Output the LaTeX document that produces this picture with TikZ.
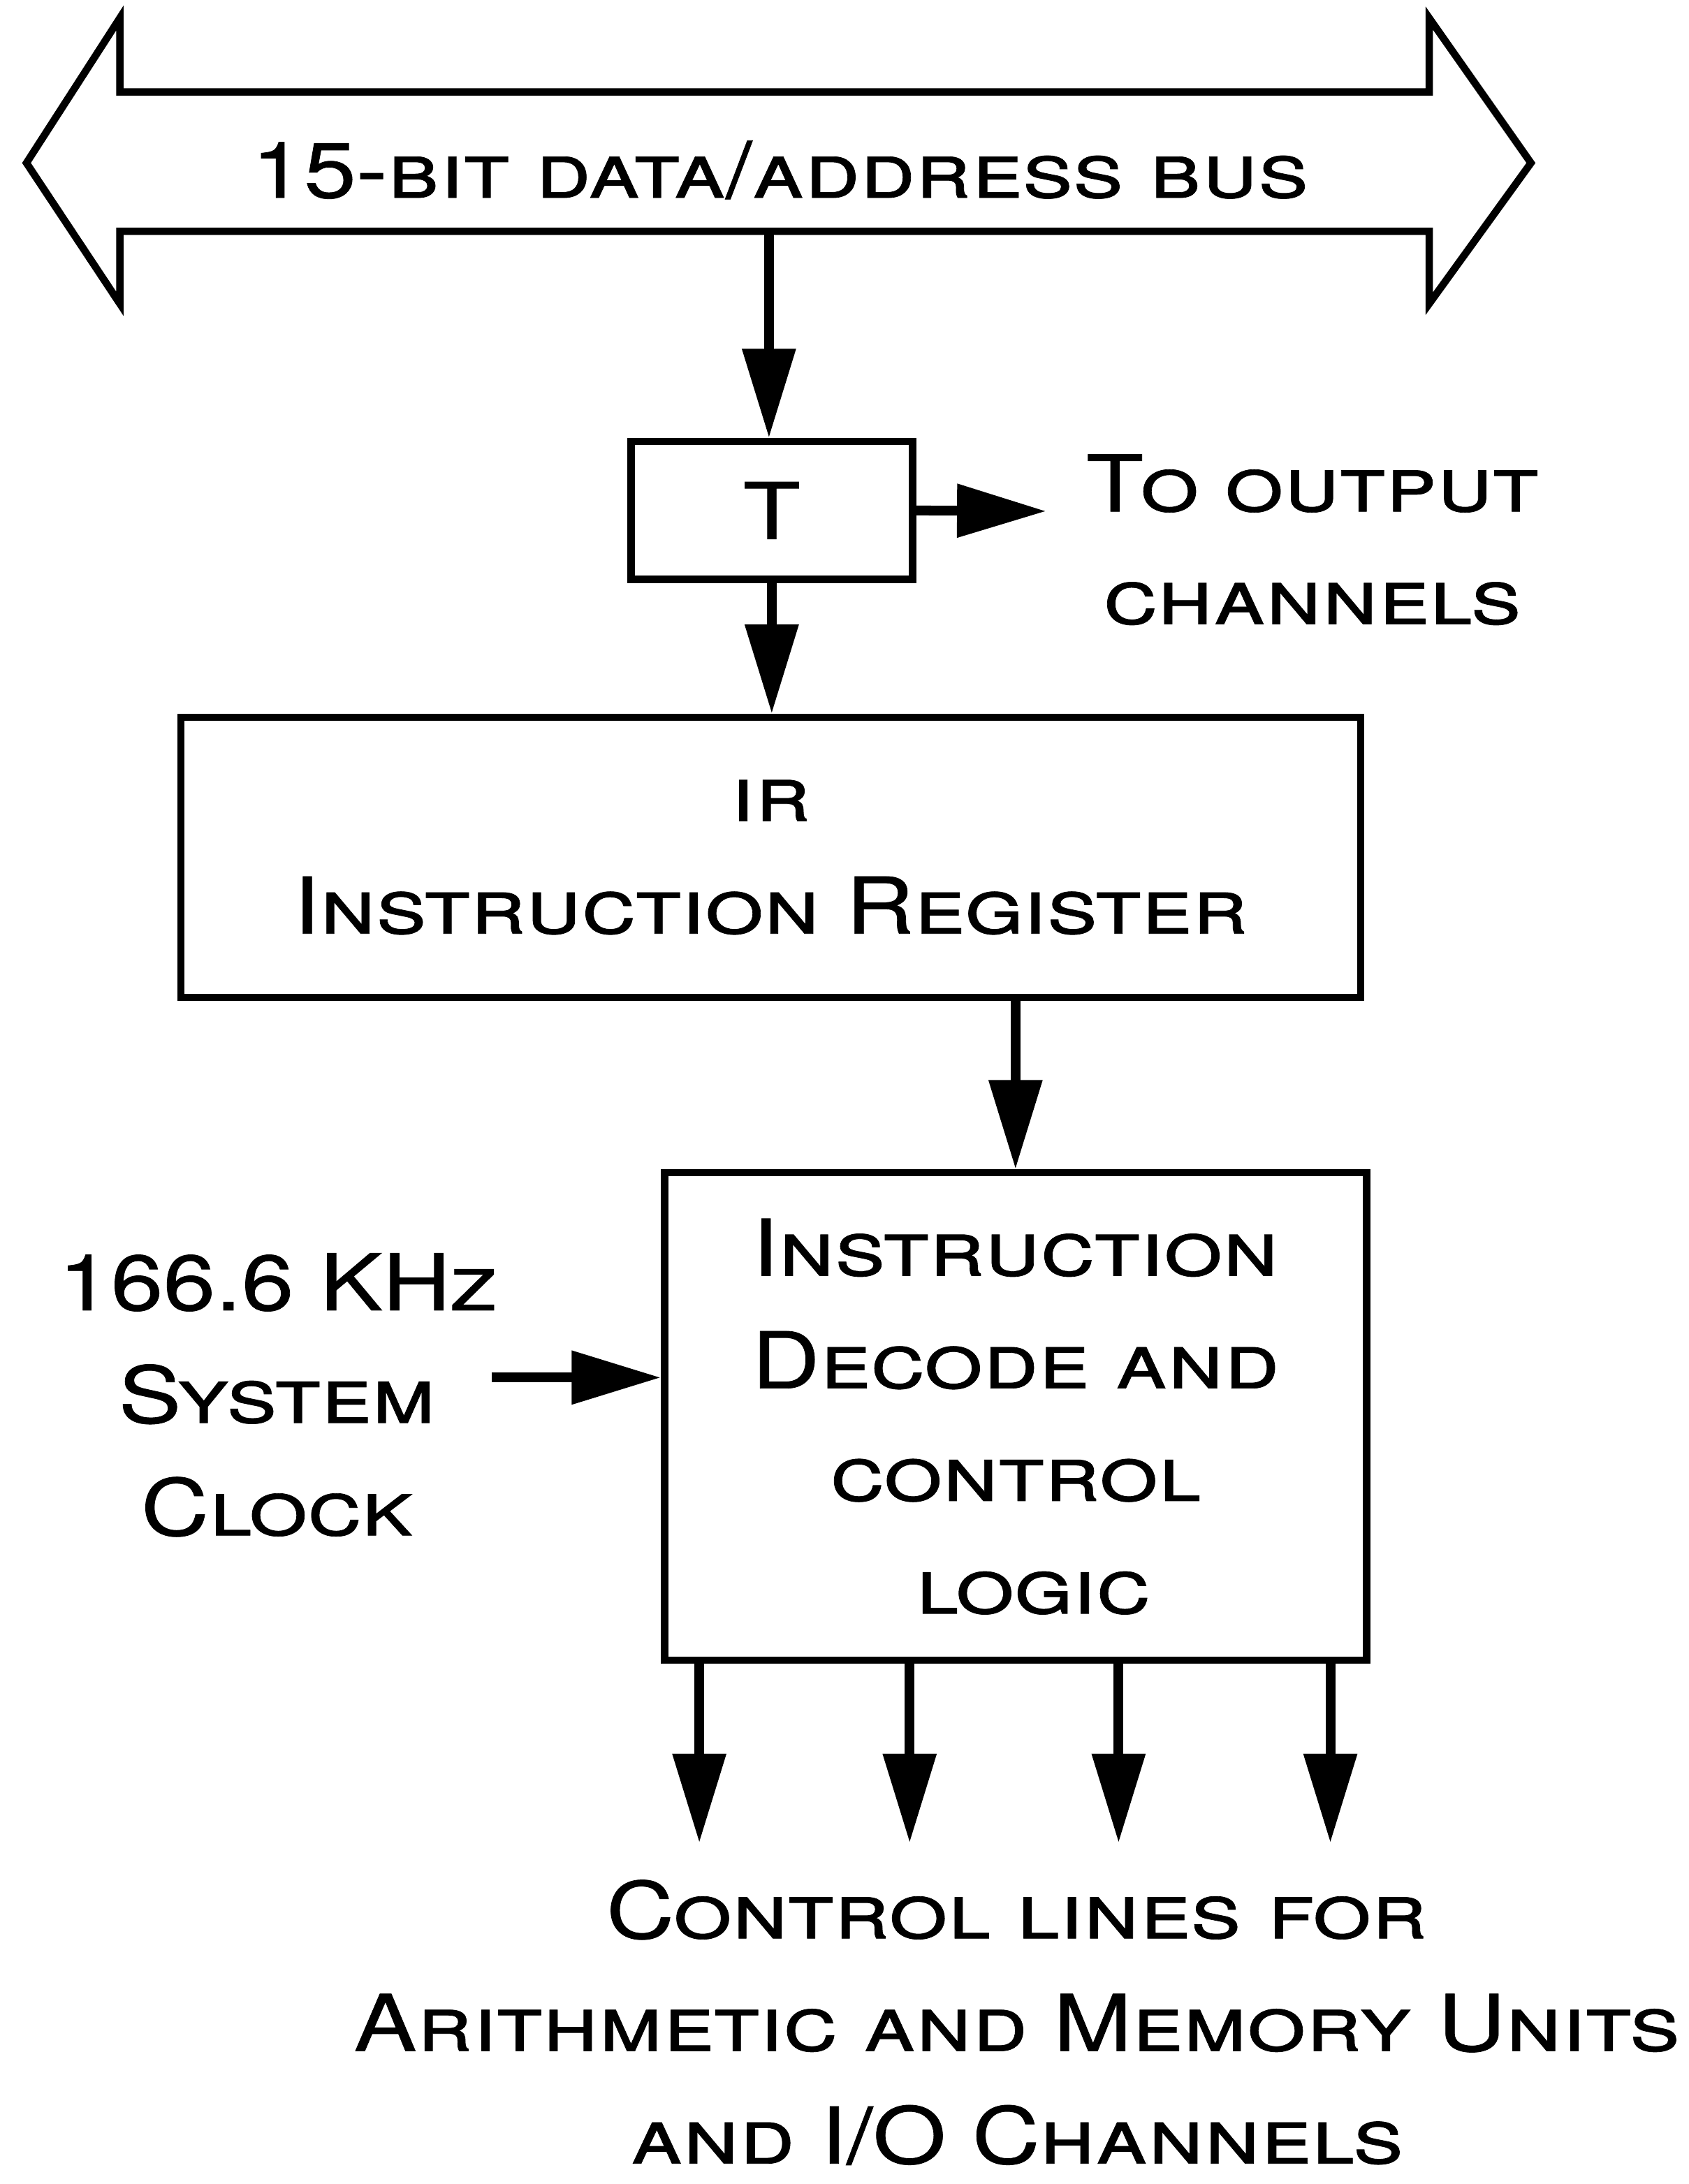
\documentclass[tikz,border=0pt]{standalone}
\usepackage{fontspec}
\setmainfont{TeX Gyre Heros}[FakeStretch=1.2,FakeBold=0.7]
\usepackage{tikz}
\usetikzlibrary{arrows.meta,positioning,calc}
\tikzset{
  blk/.style={draw,line width=1.5pt,align=center,inner sep=0pt},
  txt/.style={align=center,inner sep=0pt},
  ar/.style={-{Triangle[length=6.4mm,width=3.7mm]},line width=2pt},
}

\begin{document}
\begin{tikzpicture}[font=\fontsize{16}{23}\selectfont\scshape]
  \useasboundingbox (0,0) rectangle (12.12,-15.68);

  % bus
  \draw[line width=1.5pt,line join=miter] (0.19,-1.17) -- (0.86,-0.13) -- (0.86,-0.66) -- (10.26,-0.66)
    -- (10.26,-0.13) -- (10.99,-1.17) -- (10.26,-2.18) -- (10.26,-1.66)
    -- (0.86,-1.66) -- (0.86,-2.18) -- cycle;
  \node[txt] (bus) at (5.60,-1.22) {15-bit data/address bus};
  \coordinate (busout) at (5.52,-1.66);

  \node[blk,minimum width=2.02cm,minimum height=0.99cm] (tbox) at (5.54,-3.665) {T};
  \coordinate (tout) at (7.51,-3.67);
  \node[txt] (outlbl) at (9.42,-3.875) {To output\\channels};

  \node[blk,minimum width=8.47cm,minimum height=2.01cm] (ir) at (5.534,-6.155)
    {ir\\Instruction Register};

  \node[blk,minimum width=5.04cm,minimum height=3.50cm] (dec) at (7.29,-10.17)
    {Instruction\\Decode and\\control\\\hspace*{0.25cm}logic};

  \node[txt] (clk) at (1.99,-10.015) {166.6 KHz\\System\\Clock};
  \coordinate (clkin) at (3.53,-9.89);

  \node[txt] (ctl) at (7.30,-14.52) {Control lines for\\Arithmetic and Memory Units\\and I/O Channels};

  \draw[ar] (busout) -- (busout |- tbox.north);
  \draw[ar] (tbox.east) -- (tout);
  \draw[ar] (tbox.south) -- (tbox.south |- ir.north);
  \draw[ar] (dec.north |- ir.south) -- (dec.north);
  \draw[ar] (clkin) -- (clkin -| dec.west);
  \foreach \x [count=\i] in {5.02,6.53,8.03,9.55} {
    \coordinate (cl\i) at (\x,-13.23);
    \draw[ar] (cl\i |- dec.south) -- (cl\i);
  }
\end{tikzpicture}
\end{document}
